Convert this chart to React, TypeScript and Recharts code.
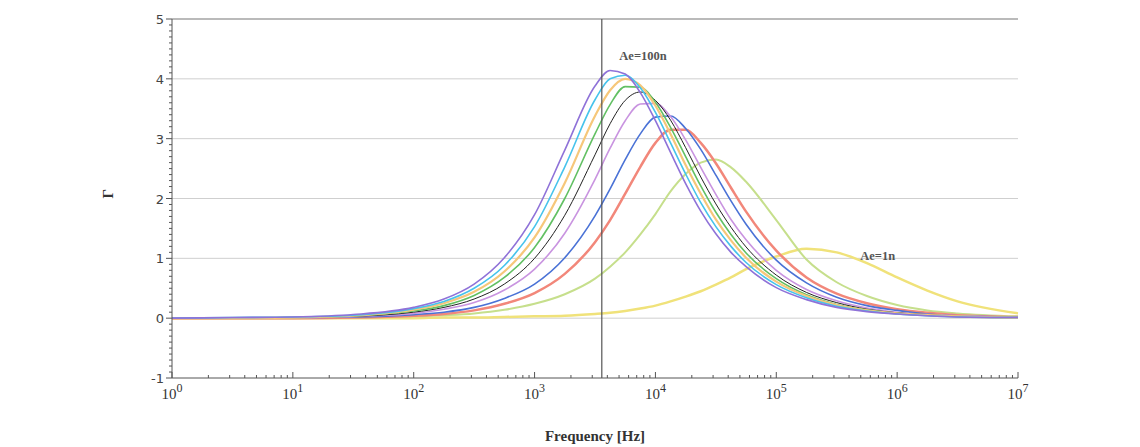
import React from "react";
import {
  Label,
  Line,
  LineChart,
  ReferenceDot,
  ReferenceLine,
  XAxis,
  YAxis,
} from "recharts";

// frequency grid, as powers of ten (Hz)
const logFreq = [
  0, 0.5, 1, 1.5, 2, 2.25, 2.5, 2.75, 3, 3.25, 3.5, 3.625, 3.75, 3.875, 4,
  4.125, 4.25, 4.375, 4.5, 4.625, 4.75, 5, 5.25, 5.5, 5.75, 6, 6.25, 6.5, 7,
];

// Γ values, Ae=100n ... Ae=1n
const violet = [0, 0.01, 0.02, 0.06, 0.18, 0.32, 0.57, 1.01, 1.73, 2.81, 3.88, 4.14, 4.08, 3.77, 3.3, 2.77, 2.25, 1.79, 1.41, 1.1, 0.86, 0.51, 0.31, 0.18, 0.11, 0.07, 0.04, 0.02, 0.01];
const cyan = [0, 0.01, 0.02, 0.05, 0.16, 0.28, 0.5, 0.88, 1.53, 2.53, 3.65, 4.0, 4.06, 3.85, 3.44, 2.93, 2.41, 1.93, 1.53, 1.2, 0.93, 0.56, 0.34, 0.2, 0.12, 0.07, 0.04, 0.02, 0.01];
const orange = [0, 0, 0.01, 0.04, 0.14, 0.25, 0.44, 0.78, 1.35, 2.26, 3.38, 3.81, 4.0, 3.89, 3.55, 3.08, 2.56, 2.08, 1.65, 1.3, 1.01, 0.61, 0.37, 0.22, 0.13, 0.08, 0.05, 0.03, 0.01];
const green = [0, 0, 0.01, 0.04, 0.12, 0.21, 0.38, 0.68, 1.18, 2.0, 3.08, 3.57, 3.87, 3.86, 3.61, 3.19, 2.7, 2.21, 1.77, 1.4, 1.09, 0.66, 0.39, 0.23, 0.14, 0.08, 0.05, 0.03, 0.01];
const black = [0, 0, 0.01, 0.03, 0.1, 0.18, 0.32, 0.57, 1.0, 1.72, 2.73, 3.25, 3.64, 3.78, 3.64, 3.31, 2.85, 2.36, 1.91, 1.52, 1.19, 0.72, 0.43, 0.26, 0.15, 0.09, 0.06, 0.03, 0.01];
const magenta = [0, 0, 0.01, 0.03, 0.08, 0.15, 0.26, 0.47, 0.82, 1.42, 2.32, 2.84, 3.3, 3.58, 3.59, 3.37, 2.98, 2.52, 2.07, 1.65, 1.31, 0.8, 0.48, 0.29, 0.17, 0.1, 0.06, 0.04, 0.01];
const blue = [0, 0, 0.01, 0.02, 0.06, 0.1, 0.18, 0.33, 0.57, 1.01, 1.71, 2.16, 2.65, 3.08, 3.36, 3.38, 3.17, 2.82, 2.39, 1.96, 1.57, 0.97, 0.59, 0.35, 0.21, 0.13, 0.07, 0.04, 0.02];
const red = [0, 0, 0, 0.01, 0.04, 0.07, 0.13, 0.24, 0.42, 0.74, 1.27, 1.64, 2.08, 2.53, 2.93, 3.15, 3.15, 2.93, 2.59, 2.18, 1.78, 1.13, 0.68, 0.41, 0.25, 0.15, 0.09, 0.05, 0.02];
const lightGreen = [0, 0, 0, 0.01, 0.03, 0.05, 0.08, 0.14, 0.24, 0.4, 0.66, 0.86, 1.1, 1.4, 1.74, 2.12, 2.41, 2.6, 2.65, 2.52, 2.28, 1.64, 0.98, 0.6, 0.37, 0.22, 0.13, 0.08, 0.03];
const yellow = [0, 0, 0, 0, 0, 0.01, 0.01, 0.02, 0.03, 0.04, 0.07, 0.09, 0.12, 0.16, 0.21, 0.28, 0.36, 0.45, 0.56, 0.68, 0.82, 1.03, 1.16, 1.1, 0.92, 0.68, 0.46, 0.28, 0.08];

const decades = [0, 1, 2, 3, 4, 5, 6, 7];
const yMajor = [-1, 0, 1, 2, 3, 4, 5];
const markerFreq = 3600;

const series = [
  { key: "yellow", values: yellow, color: "#f0e27a", width: 2.5 },
  { key: "lightGreen", values: lightGreen, color: "#c6df8c", width: 2 },
  { key: "red", values: red, color: "#f2877a", width: 2.5 },
  { key: "blue", values: blue, color: "#4a72d6", width: 1.6 },
  { key: "magenta", values: magenta, color: "#c994e0", width: 1.6 },
  { key: "black", values: black, color: "#222222", width: 1 },
  { key: "green", values: green, color: "#62c063", width: 1.6 },
  { key: "orange", values: orange, color: "#f6c77a", width: 2.2 },
  { key: "cyan", values: cyan, color: "#46c3ec", width: 1.6 },
  { key: "violet", values: violet, color: "#8f72d8", width: 1.6 },
];

const data = logFreq.map((e, i) => {
  const row: Record<string, number> = { f: Math.pow(10, e) };
  series.forEach((s) => (row[s.key] = s.values[i]));
  return row;
});

const xTicks: number[] = [];
decades.forEach((d) => {
  if (d === 7) {
    xTicks.push(Math.pow(10, d));
    return;
  }
  for (let m = 1; m <= 9; m++) xTicks.push(m * Math.pow(10, d));
});

const yTicks: number[] = [];
for (let i = yMajor[0] * 10; i <= yMajor[yMajor.length - 1] * 10; i++) yTicks.push(i / 10);

const XTick = (props: any) => {
  const { x, y, payload } = props;
  const e = Math.log10(payload.value);
  const major = Math.abs(e - Math.round(e)) < 1e-6;
  return (
    <g>
      <line x1={x} x2={x} y1={y} y2={y - (major ? 6 : 3)} stroke="#555" />
      {major && (
        <text
          x={x}
          y={y + 21}
          textAnchor="middle"
          fontFamily="Liberation Serif"
          fontSize={15}
          fill="#333"
        >
          10
          <tspan dy={-7} fontSize={12}>
            {Math.round(e)}
          </tspan>
        </text>
      )}
    </g>
  );
};

const YTick = (props: any) => {
  const { x, y, payload } = props;
  const v = payload.value;
  const major = Math.abs(v - Math.round(v)) < 1e-6;
  return (
    <g>
      <line x1={x} x2={x - (major ? 6 : 3)} y1={y} y2={y} stroke="#555" />
      {major && (
        <text
          x={x - 8}
          y={y + 5}
          textAnchor="end"
          fontFamily="DejaVu Sans"
          fontSize={13}
          fill="#444"
        >
          {Math.round(v)}
        </text>
      )}
    </g>
  );
};

const Note = (text: string) => (props: any) => (
  <text
    x={props.cx}
    y={props.cy}
    textAnchor="middle"
    fontFamily="Liberation Serif"
    fontSize={12.5}
    fontWeight="bold"
    fill="#555"
  >
    {text}
  </text>
);

export default function App() {
  return (
    <div style={{ position: "absolute", left: 0, top: 0, width: 1140, height: 447, background: "#fff" }}>
      <LineChart
        width={1140}
        height={447}
        data={data}
        margin={{ top: 19, right: 122, bottom: 0, left: 92 }}
      >
        <XAxis
          dataKey="f"
          type="number"
          scale="log"
          domain={[1, 1e7]}
          ticks={xTicks}
          interval={0}
          tick={<XTick />}
          tickLine={false}
          tickSize={0}
          tickMargin={0}
          height={69}
          axisLine={{ stroke: "#555" }}
        >
          <Label
            value="Frequency [Hz]"
            position="insideBottom"
            offset={6}
            style={{ fontFamily: "Liberation Serif", fontSize: 15, fontWeight: "bold", fill: "#333" }}
          />
        </XAxis>
        <YAxis
          type="number"
          domain={[-1, 5]}
          ticks={yTicks}
          interval={0}
          tick={<YTick />}
          tickLine={false}
          tickSize={0}
          tickMargin={0}
          width={80}
          axisLine={{ stroke: "#555" }}
          allowDataOverflow
        >
          <Label
            value="Γ"
            angle={-90}
            position="insideLeft"
            offset={16}
            style={{ fontFamily: "Liberation Serif", fontSize: 15, fontWeight: "bold", fill: "#333" }}
          />
        </YAxis>
        {yMajor
          .filter((v) => v > -1 && v < 5)
          .map((v) => (
            <ReferenceLine key={v} y={v} stroke="#cfcfcf" strokeWidth={1} />
          ))}
        <ReferenceLine y={5} stroke="#777" strokeWidth={1.2} />
        {series.map((s) => (
          <Line
            key={s.key}
            type="monotone"
            dataKey={s.key}
            stroke={s.color}
            strokeWidth={s.width}
            dot={false}
            isAnimationActive={false}
          />
        ))}
        <ReferenceLine x={markerFreq} stroke="#555" strokeWidth={1.2} />
        <ReferenceDot x={7900} y={4.32} r={0} shape={Note("Ae=100n")} />
        <ReferenceDot x={690000} y={0.98} r={0} shape={Note("Ae=1n")} />
      </LineChart>
    </div>
  );
}
